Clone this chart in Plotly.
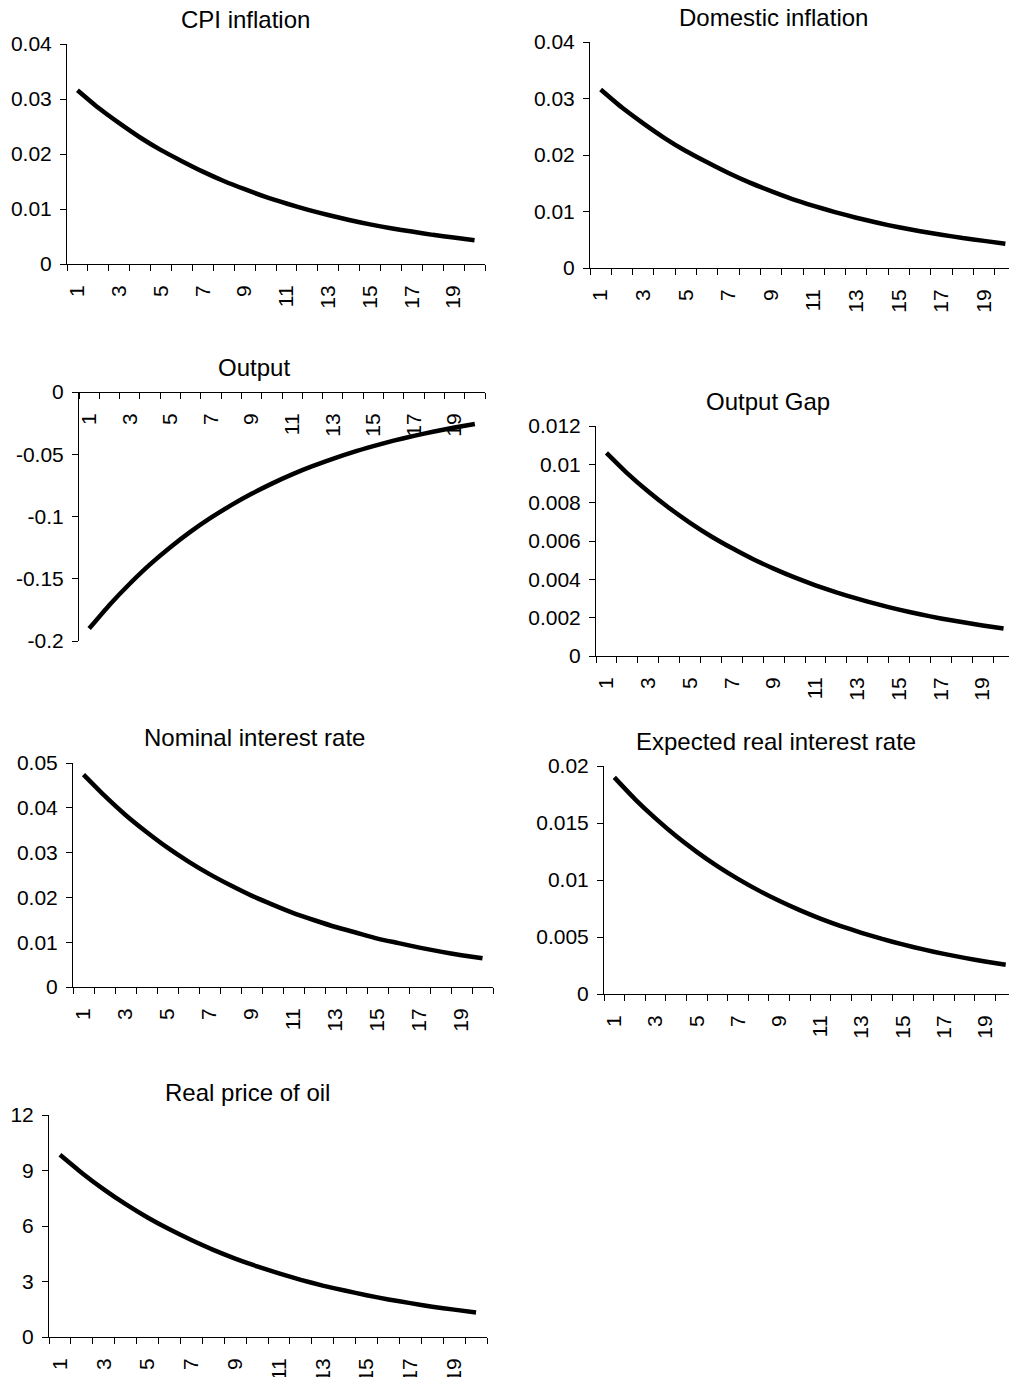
import plotly.graph_objects as go

W, H = 1017, 1377          # reference picture size
OFF = 8                    # page body margin of the browser
FW, FH = W - OFF, H - OFF  # figure size so that the page fits the window

periods = list(range(1, 21))
x_tick_vals = [1, 3, 5, 7, 9, 11, 13, 15, 17, 19]
x_tick_text = ["1", "3", "5", "7", "9", "11", "13", "15", "17", "19"]

cpi_inflation = [0.0316, 0.0284, 0.0256, 0.0230, 0.0207, 0.0187, 0.0168, 0.0151, 0.0136, 0.0122,
                 0.0110, 0.0099, 0.0089, 0.0080, 0.0072, 0.0065, 0.0059, 0.0053, 0.0048, 0.0043]
domestic_inflation = [0.0316, 0.0284, 0.0256, 0.0230, 0.0207, 0.0187, 0.0168, 0.0151, 0.0136, 0.0122,
                      0.0110, 0.0099, 0.0089, 0.0080, 0.0072, 0.0065, 0.0059, 0.0053, 0.0048, 0.0043]
output = [-0.190, -0.171, -0.154, -0.1385, -0.1247, -0.1122, -0.1010, -0.0909, -0.0818, -0.0736,
          -0.0662, -0.0596, -0.0537, -0.0483, -0.0435, -0.0391, -0.0352, -0.0317, -0.0285, -0.0257]
output_gap = [0.0106, 0.00953, 0.00858, 0.00772, 0.00695, 0.00625, 0.00563, 0.00506, 0.00456, 0.00410,
              0.00369, 0.00332, 0.00299, 0.00269, 0.00242, 0.00218, 0.00196, 0.00177, 0.00159, 0.00143]
nominal_rate = [0.0474, 0.0427, 0.0384, 0.0346, 0.0311, 0.0280, 0.0252, 0.0227, 0.0204, 0.0184,
                0.0165, 0.0149, 0.0134, 0.0121, 0.0108, 0.0098, 0.0088, 0.0079, 0.0071, 0.0064]
expected_real_rate = [0.0190, 0.0171, 0.0154, 0.01385, 0.01247, 0.01122, 0.0101, 0.00909, 0.00818, 0.00736,
                      0.00662, 0.00596, 0.00537, 0.00483, 0.00435, 0.00391, 0.00352, 0.00317, 0.00285, 0.00257]
real_oil_price = [9.85, 8.87, 7.98, 7.18, 6.46, 5.82, 5.24, 4.71, 4.24, 3.82,
                  3.44, 3.09, 2.78, 2.51, 2.26, 2.03, 1.83, 1.64, 1.48, 1.33]

titles = ["CPI inflation", "Domestic inflation", "Output", "Output Gap",
          "Nominal interest rate", "Expected real interest rate", "Real price of oil"]
series = [cpi_inflation, domestic_inflation, output, output_gap,
          nominal_rate, expected_real_rate, real_oil_price]

y_ticks_cpi = [0, 0.01, 0.02, 0.03, 0.04]
y_text_cpi = ["0", "0.01", "0.02", "0.03", "0.04"]
y_ticks_output = [-0.2, -0.15, -0.1, -0.05, 0]
y_text_output = ["-0.2", "-0.15", "-0.1", "-0.05", "0"]
y_ticks_gap = [0, 0.002, 0.004, 0.006, 0.008, 0.01, 0.012]
y_text_gap = ["0", "0.002", "0.004", "0.006", "0.008", "0.01", "0.012"]
y_ticks_nom = [0, 0.01, 0.02, 0.03, 0.04, 0.05]
y_text_nom = ["0", "0.01", "0.02", "0.03", "0.04", "0.05"]
y_ticks_real = [0, 0.005, 0.01, 0.015, 0.02]
y_text_real = ["0", "0.005", "0.01", "0.015", "0.02"]
y_ticks_oil = [0, 3, 6, 9, 12]
y_text_oil = ["0", "3", "6", "9", "12"]

y_ticks = [(y_ticks_cpi, y_text_cpi), (y_ticks_cpi, y_text_cpi), (y_ticks_output, y_text_output),
           (y_ticks_gap, y_text_gap), (y_ticks_nom, y_text_nom), (y_ticks_real, y_text_real),
           (y_ticks_oil, y_text_oil)]

# panel boxes in reference pixels: left, right, top, bottom
boxes = [(67, 485, 44, 264), (590, 1016, 42, 268), (79, 485, 392, 641), (596, 1014, 426, 656),
         (73, 493, 763, 987), (604, 1016, 766, 994), (49, 487, 1115, 1337)]
title_pos = [(245, 19), (773, 18), (254, 368), (768, 401), (254, 738), (776, 741), (247, 1092)]


def px(xp):
    return (xp - OFF) / FW


def py(yp):
    return 1 - (yp - OFF) / FH


FONT = "Liberation Sans, Arial, sans-serif"
TICK_SIZE = 21
fig = go.Figure()
layout = dict(width=FW, height=FH, margin=dict(l=0, r=0, t=0, b=0, pad=0, autoexpand=False),
              paper_bgcolor="white", plot_bgcolor="white", showlegend=False,
              font=dict(family=FONT, size=TICK_SIZE, color="black"), annotations=[])

minor_vals = [i + 0.5 for i in range(0, 21)]

for i, (ys, t) in enumerate(zip(series, titles)):
    k = i + 1
    xa = "x" if k == 1 else f"x{k}"
    ya = "y" if k == 1 else f"y{k}"
    fig.add_trace(go.Scatter(x=periods, y=ys, mode="lines", xaxis=xa, yaxis=ya,
                             line=dict(color="black", width=4.5, shape="spline", smoothing=0.5)))
    l, r, tp, bt = boxes[i]
    xd = [max(0, px(l)), min(1, px(r))]
    yd = [max(0, py(bt)), min(1, py(tp))]
    yt, ytxt = y_ticks[i]
    xaxis = dict(domain=xd, range=[0.5, 20.5], tickmode="array", tickvals=x_tick_vals,
                 ticktext=x_tick_text, tickangle=-90, ticks="", showgrid=False, zeroline=False,
                 showline=True, linecolor="black", linewidth=1, automargin=False,
                 ticklabelstandoff=12,
                 tickfont=dict(size=TICK_SIZE, family=FONT, color="black"),
                 minor=dict(tickmode="array", tickvals=minor_vals, ticks="outside", ticklen=6,
                            tickcolor="black", tickwidth=1, showgrid=False))
    if k == 3:
        xaxis.update(anchor="free", position=py(tp), side="bottom")
    else:
        xaxis.update(anchor=ya)
    yaxis = dict(domain=yd, range=[yt[0], yt[-1]], tickmode="array", tickvals=yt, ticktext=ytxt,
                 ticks="outside", ticklen=6, tickcolor="black", tickwidth=1, automargin=False,
                 ticklabelstandoff=4,
                 showgrid=False, zeroline=False, showline=True, linecolor="black", linewidth=1,
                 anchor=xa, tickfont=dict(size=TICK_SIZE, family=FONT, color="black"))
    layout["xaxis" if k == 1 else f"xaxis{k}"] = xaxis
    layout["yaxis" if k == 1 else f"yaxis{k}"] = yaxis
    tx, ty = title_pos[i]
    layout["annotations"].append(dict(text=t, x=px(tx), y=py(ty), xref="paper", yref="paper",
                                      showarrow=False, xanchor="center", yanchor="middle",
                                      font=dict(size=24, family=FONT, color="black")))

fig.update_layout(**layout)
fig.write_html("out.html", config={"displayModeBar": False})
